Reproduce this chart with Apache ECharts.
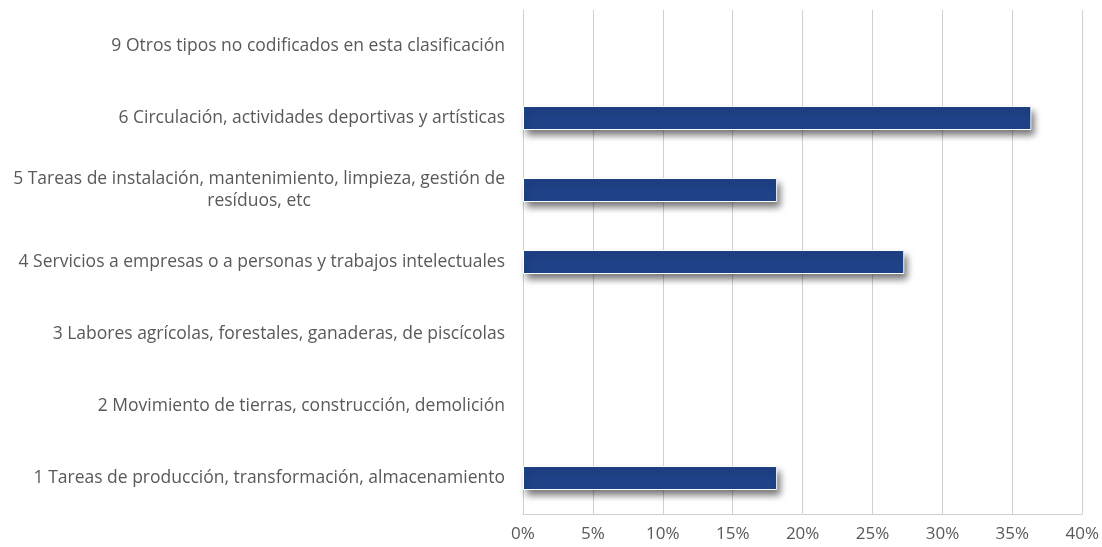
<!DOCTYPE html>
<html lang="es">
<head>
    <meta charset="UTF-8">
    <title>Tipo de trabajo</title>
    <script src="https://cdn.jsdelivr.net/npm/echarts@6/dist/echarts.min.js"></script>
    <style>
        html, body { margin: 0; padding: 0; background: #fff; }
    </style>
</head>
<body>
<div id="main" style="width: 1102px;height:547px;"></div>
<script type="text/javascript">
    // categorias de abajo hacia arriba
    var categorias = [
        '1 Tareas de producción, transformación, almacenamiento',
        '2 Movimiento de tierras, construcción, demolición',
        '3 Labores agrícolas, forestales, ganaderas, de piscícolas',
        '4 Servicios a empresas o a personas y trabajos intelectuales',
        '5 Tareas de instalación, mantenimiento, limpieza, gestión de\nresíduos, etc',
        '6 Circulación, actividades deportivas y artísticas',
        '9 Otros tipos no codificados en esta clasificación'
    ];
    var porcentajes = [18.18, 0, 0, 27.27, 18.18, 36.36, 0];
    var ticksX = [0, 5, 10, 15, 20, 25, 30, 35, 40];

    var myChart = echarts.init(document.getElementById('main'));

    // las barras con 0 no se dibujan (si no queda una sombra suelta)
    var datos = porcentajes.map(function (v) { return v === 0 ? '-' : v; });

    var option = {
        animation: false,
        textStyle: { fontFamily: '"Open Sans", sans-serif' },
        grid: {
            left: 523,
            right: 17,
            top: 10,
            bottom: 33
        },
        xAxis: {
            type: 'value',
            min: ticksX[0],
            max: ticksX[ticksX.length - 1],
            interval: 5,
            axisLine: { show: true, lineStyle: { color: '#d0d0d0' } },
            axisTick: { show: false },
            splitLine: { lineStyle: { color: '#d0d0d0', width: 1 } },
            axisLabel: {
                color: '#595959',
                fontSize: 17,
                margin: 12,
                formatter: function (v) { return v + '%'; }
            }
        },
        yAxis: {
            type: 'category',
            data: categorias,
            axisTick: { show: false },
            axisLine: { show: true, lineStyle: { color: '#d0d0d0' } },
            axisLabel: {
                color: '#595959',
                fontSize: 17.5,
                margin: 18,
                formatter: function (v) { return '{a|' + v.split('\n').join('}\n{a|') + '}'; },
                rich: {
                    a: { align: 'center', color: '#595959', fontSize: 17.5, lineHeight: 22 }
                }
            }
        },
        series: [{
            type: 'bar',
            data: datos,
            barWidth: 24,
            itemStyle: {
                color: '#1f4389',
                borderColor: '#ffffff',
                borderWidth: 1,
                shadowColor: 'rgba(0,0,0,0.55)',
                shadowBlur: 7,
                shadowOffsetX: 3,
                shadowOffsetY: 5
            }
        }]
    };

    myChart.setOption(option);
</script>
</body>
</html>
